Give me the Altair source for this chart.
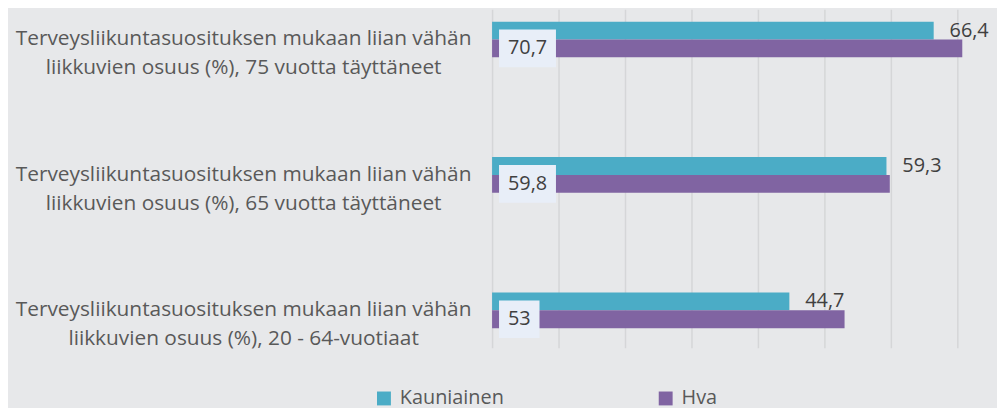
import altair as alt
import pandas as pd

categories = [
    "Terveysliikuntasuosituksen mukaan liian vähän\nliikkuvien osuus (%), 75 vuotta täyttäneet",
    "Terveysliikuntasuosituksen mukaan liian vähän\nliikkuvien osuus (%), 65 vuotta täyttäneet",
    "Terveysliikuntasuosituksen mukaan liian vähän\nliikkuvien osuus (%), 20 - 64-vuotiaat",
]
series = ["Kauniainen", "Hva"]
kauniainen = [66.4, 59.3, 44.7]
hva = [70.7, 59.8, 53.0]
kauniainen_labels = ["66,4", "59,3", "44,7"]
hva_labels = ["70,7", "59,8", "53"]
colors = ["#4BACC6", "#8064A2"]
grid_values = [0, 10, 20, 30, 40, 50, 60, 70]

rows = []
for c, v, l in zip(categories, kauniainen, kauniainen_labels):
    rows.append({"category": c, "series": "Kauniainen", "value": v, "label": l})
for c, v, l in zip(categories, hva, hva_labels):
    rows.append({"category": c, "series": "Hva", "value": v, "label": l})
df = pd.DataFrame(rows)

W = 474
H = 337
XMAX = 70.7
PX = W / XMAX
FONT = "Open Sans"

xscale = alt.Scale(domain=[0, XMAX], nice=False, zero=True)
xaxis = alt.Axis(values=grid_values, labels=False, ticks=False, domain=False, title=None,
                 grid=True, gridColor="#D5D6D8", gridWidth=1.5)
yenc = alt.Y("category:N", sort=categories,
             scale=alt.Scale(range=[-4, 337.25], paddingInner=0.5, paddingOuter=0),
             axis=alt.Axis(title=None, ticks=False, domain=False, labelAlign="center",
                           labelPadding=251, labelLimit=0, labelFont=FONT, labelFontSize=21,
                           labelColor="#595959", labelLineHeight=29, labelBaseline="middle",
                           labelExpr="split(datum.label, '\\n')"))
yoff = alt.YOffset("series:N", sort=series, scale=alt.Scale(paddingInner=0, paddingOuter=0.896))

base = alt.Chart(df)

bars = base.mark_bar().encode(
    x=alt.X("value:Q", scale=xscale, axis=xaxis),
    y=yenc,
    yOffset=yoff,
    color=alt.Color("series:N", sort=series,
                    scale=alt.Scale(domain=series, range=colors),
                    legend=alt.Legend(orient="none", legendX=-119, legendY=382,
                                      direction="horizontal", title=None,
                                      symbolType="square", symbolSize=196,
                                      symbolStrokeWidth=0, labelFont=FONT,
                                      labelFontSize=20, labelColor="#595959",
                                      columnPadding=153, labelOffset=6, padding=0)),
)

k_text = base.transform_filter(alt.datum.series == "Kauniainen").mark_text(
    align="left", baseline="middle", dx=16, font=FONT, fontSize=20, color="#404040"
).encode(
    x=alt.X("value:Q", scale=xscale, axis=xaxis),
    y=yenc,
    yOffset=yoff,
    text="label:N",
)

h_box = base.transform_filter(alt.datum.series == "Hva").transform_calculate(
    zero="0",
    bw="(18 + 11.4*length(replace(datum.label, ',', '')) + 5.2*(length(datum.label) - length(replace(datum.label, ',', ''))))/" + str(PX),
).mark_bar(height=38, color="#E8EEF8", xOffset=7, x2Offset=7).encode(
    x=alt.X("zero:Q", scale=xscale, axis=xaxis),
    x2="bw:Q",
    y=yenc,
    yOffset=yoff,
)

h_text = base.transform_filter(alt.datum.series == "Hva").transform_calculate(
    zero="0"
).mark_text(
    align="left", baseline="middle", dx=16, font=FONT, fontSize=20, color="#404040"
).encode(
    x=alt.X("zero:Q", scale=xscale, axis=xaxis),
    y=yenc,
    yOffset=yoff,
    text="label:N",
)

chart = alt.layer(bars, k_text, h_box, h_text).properties(
    width=W, height=H,
    autosize=alt.AutoSizeParams(type="none"),
    padding={"left": 488, "top": 0, "right": 35, "bottom": 63},
    background="#E7E8EA",
).configure_view(stroke=None)

chart.save("out.html", embed_options={"renderer": "svg", "actions": False})
